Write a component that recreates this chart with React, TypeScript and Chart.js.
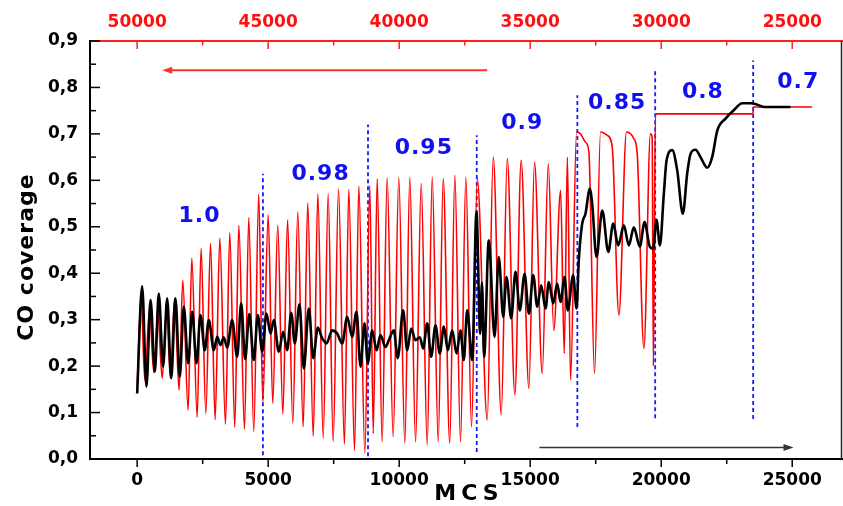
import React, { useEffect, useRef } from 'react';
import { Chart, registerables } from 'chart.js';

Chart.register(...registerables);

// ---- data ----
const redPoints: [number, number][] = [
  [0, 0.155], [150, 0.349], [290, 0.17], [470, 0.32], [635, 0.186], [790, 0.313], [955, 0.174], [1120, 0.325],
  [1270, 0.174], [1425, 0.346], [1600, 0.148], [1740, 0.385], [1945, 0.105], [2085, 0.432], [2290, 0.09], [2440, 0.453],
  [2620, 0.098], [2800, 0.464], [2975, 0.085], [3155, 0.475], [3370, 0.075], [3535, 0.487], [3725, 0.069], [3880, 0.503],
  [4095, 0.064], [4260, 0.52], [4450, 0.059], [4640, 0.57], [4795, 0.123], [5000, 0.525], [5175, 0.12], [5365, 0.503],
  [5560, 0.097], [5740, 0.515], [5940, 0.077], [6130, 0.532], [6335, 0.069], [6510, 0.551], [6720, 0.049], [6895, 0.571],
  [7100, 0.045], [7290, 0.571], [7480, 0.037], [7685, 0.582], [7910, 0.032], [8077, 0.58], [8295, 0.018], [8460, 0.587],
  [8690, 0.012], [8880, 0.589], [9010, 0.055], [9160, 0.604], [9350, 0.037], [9540, 0.606], [9770, 0.048], [9985, 0.606],
  [10215, 0.034], [10405, 0.606], [10625, 0.037], [10840, 0.593], [11070, 0.03], [11260, 0.607], [11490, 0.037], [11680, 0.604],
  [11930, 0.034], [12125, 0.611], [12340, 0.037], [12545, 0.607], [12760, 0.069], [12980, 0.604], [13360, 0.084], [13590, 0.65],
  [13895, 0.095], [14125, 0.647], [14415, 0.138], [14655, 0.643], [14950, 0.152], [15165, 0.639], [15460, 0.184], [15690, 0.636],
  [15900, 0.277], [16160, 0.578], [16300, 0.227], [16420, 0.65], [16540, 0.17], [16770, 0.704], [16920, 0.7], [17110, 0.682],
  [17240, 0.661], [17455, 0.184], [17685, 0.704], [17940, 0.697], [18130, 0.672], [18385, 0.31], [18675, 0.704], [18955, 0.69],
  [19085, 0.657], [19340, 0.238], [19590, 0.7], [19655, 0.693], [19700, 0.2], [19780, 0.743], [23505, 0.743], [23515, 0.758],
  [25760, 0.758],
];

const blackPoints: [number, number][] = [
  [0, 0.141], [190, 0.372], [355, 0.156], [510, 0.343], [675, 0.188], [825, 0.356], [990, 0.199], [1145, 0.346],
  [1300, 0.174], [1460, 0.346], [1625, 0.177], [1780, 0.328], [1945, 0.206], [2100, 0.317], [2265, 0.206], [2415, 0.31],
  [2580, 0.234], [2735, 0.299], [2925, 0.234], [3055, 0.263], [3180, 0.245], [3305, 0.262], [3435, 0.24], [3625, 0.299],
  [3815, 0.22], [3970, 0.335], [4120, 0.215], [4280, 0.312], [4450, 0.213], [4605, 0.31], [4770, 0.231], [4935, 0.313],
  [5090, 0.27], [5215, 0.299], [5405, 0.231], [5570, 0.274], [5725, 0.234], [5880, 0.315], [6015, 0.249], [6195, 0.333],
  [6360, 0.195], [6550, 0.324], [6720, 0.217], [6895, 0.283], [7060, 0.26], [7225, 0.249], [7445, 0.277], [7635, 0.27],
  [7825, 0.249], [8015, 0.306], [8205, 0.263], [8370, 0.317], [8525, 0.199], [8675, 0.292], [8800, 0.206], [8970, 0.277],
  [9135, 0.234], [9285, 0.267], [9475, 0.241], [9605, 0.256], [9795, 0.277], [9945, 0.217], [10150, 0.32], [10305, 0.234],
  [10460, 0.281], [10620, 0.256], [10790, 0.262], [10915, 0.238], [11070, 0.292], [11220, 0.22], [11385, 0.288], [11550, 0.227],
  [11705, 0.285], [11855, 0.234], [12025, 0.277], [12190, 0.227], [12340, 0.277], [12465, 0.213], [12595, 0.32], [12785, 0.213],
  [12950, 0.532], [13090, 0.27], [13160, 0.38], [13240, 0.22], [13420, 0.471], [13640, 0.263], [13800, 0.435], [13970, 0.306],
  [14095, 0.392], [14275, 0.303], [14440, 0.403], [14605, 0.32], [14785, 0.399], [14950, 0.313], [15115, 0.396], [15270, 0.328],
  [15420, 0.374], [15585, 0.324], [15710, 0.381], [15880, 0.335], [16030, 0.378], [16160, 0.338], [16310, 0.392], [16435, 0.32],
  [16640, 0.396], [16770, 0.324], [16855, 0.428], [16985, 0.507], [17110, 0.528], [17275, 0.582], [17365, 0.55], [17530, 0.435],
  [17750, 0.535], [17980, 0.446], [18170, 0.507], [18360, 0.46], [18575, 0.503], [18765, 0.46], [18955, 0.499], [19185, 0.457],
  [19365, 0.51], [19565, 0.457], [19695, 0.453], [19820, 0.515], [19950, 0.46], [20100, 0.571], [20205, 0.643], [20420, 0.665],
  [20610, 0.622], [20825, 0.528], [20990, 0.614], [21120, 0.657], [21310, 0.666], [21500, 0.65], [21755, 0.627], [21945, 0.65],
  [22140, 0.707], [22455, 0.733], [22770, 0.751], [23090, 0.766], [23410, 0.766], [23665, 0.763], [23915, 0.758], [24935, 0.758],
];

const bottomTicks = [0, 5000, 10000, 15000, 20000, 25000];
const topTicks = [50000, 45000, 40000, 35000, 30000, 25000];
const yTicks = [0, 0.1, 0.2, 0.3, 0.4, 0.5, 0.6, 0.7, 0.8, 0.9];

const boundaryX = [4800, 8810, 12960, 16800, 19770, 23510];
const boundaryTop = [0.614, 0.72, 0.697, 0.783, 0.84, 0.858];
const boundaryBottom = [0.008, 0.006, 0.015, 0.069, 0.088, 0.086];

const phaseLabels = ['1.0', '0.98', '0.95', '0.9', '0.85', '0.8', '0.7'];
const phaseLabelX = [2378, 7000, 10940, 14695, 18320, 21590, 25230];
const phaseLabelY = [0.523, 0.614, 0.668, 0.722, 0.765, 0.79, 0.811];

const redArrowX = [13360, 954];
const redArrowY = [0.837, 0.837];
const blackArrowX = [15350, 25050];
const blackArrowY = [0.025, 0.025];

const FONT = "'DejaVu Sans', 'Liberation Sans', Arial, sans-serif";

function drawArrow(ctx: CanvasRenderingContext2D, x0: number, y0: number, x1: number, y1: number, color: string, lw: number) {
  const dir = Math.sign(x1 - x0);
  const headLen = 10;
  const half = 3.5;
  ctx.strokeStyle = color;
  ctx.fillStyle = color;
  ctx.lineWidth = lw;
  ctx.beginPath();
  ctx.moveTo(x0, y0);
  ctx.lineTo(x1 - dir * headLen * 0.8, y1);
  ctx.stroke();
  ctx.beginPath();
  ctx.moveTo(x1, y1);
  ctx.lineTo(x1 - dir * headLen, y1 - half);
  ctx.lineTo(x1 - dir * headLen, y1 + half);
  ctx.closePath();
  ctx.fill();
}

const decorPlugin = {
  id: 'decor',
  afterDraw(chart: any) {
    const { ctx, chartArea: ca, scales } = chart;
    const xs = scales.x;
    const ys = scales.y;
    const x2 = scales.x2;
    ctx.save();

    // right frame line
    ctx.strokeStyle = '#222';
    ctx.lineWidth = 1.5;
    ctx.beginPath();
    ctx.moveTo(ca.right - 0.5, ca.top);
    ctx.lineTo(ca.right - 0.5, ca.bottom);
    ctx.stroke();

    // bottom ticks (outward)
    ctx.strokeStyle = '#000';
    ctx.lineWidth = 1.5;
    bottomTicks.forEach((v, i) => {
      const px = xs.getPixelForValue(v);
      ctx.beginPath(); ctx.moveTo(px, ca.bottom); ctx.lineTo(px, ca.bottom + 8); ctx.stroke();
      if (i < bottomTicks.length - 1) {
        const m = xs.getPixelForValue((v + bottomTicks[i + 1]) / 2);
        ctx.beginPath(); ctx.moveTo(m, ca.bottom); ctx.lineTo(m, ca.bottom + 5); ctx.stroke();
      }
    });
    // left ticks (inward)
    yTicks.forEach((v, i) => {
      const py = ys.getPixelForValue(v);
      ctx.beginPath(); ctx.moveTo(ca.left, py); ctx.lineTo(ca.left + 10, py); ctx.stroke();
      if (i < yTicks.length - 1) {
        const m = ys.getPixelForValue((v + yTicks[i + 1]) / 2);
        ctx.beginPath(); ctx.moveTo(ca.left, m); ctx.lineTo(ca.left + 6, m); ctx.stroke();
      }
    });
    // top ticks (inward, red)
    ctx.strokeStyle = '#ff2020';
    topTicks.forEach((v, i) => {
      const px = x2.getPixelForValue(v);
      ctx.beginPath(); ctx.moveTo(px, ca.top); ctx.lineTo(px, ca.top + 8); ctx.stroke();
      if (i < topTicks.length - 1) {
        const m = x2.getPixelForValue((v + topTicks[i + 1]) / 2);
        ctx.beginPath(); ctx.moveTo(m, ca.top); ctx.lineTo(m, ca.top + 4.5); ctx.stroke();
      }
    });

    // arrows
    drawArrow(ctx, xs.getPixelForValue(redArrowX[0]), ys.getPixelForValue(redArrowY[0]),
      xs.getPixelForValue(redArrowX[1]), ys.getPixelForValue(redArrowY[1]), '#ff3030', 1.8);
    drawArrow(ctx, xs.getPixelForValue(blackArrowX[0]), ys.getPixelForValue(blackArrowY[0]),
      xs.getPixelForValue(blackArrowX[1]), ys.getPixelForValue(blackArrowY[1]), '#333', 1.5);

    // phase labels
    ctx.fillStyle = '#1010f0';
    ctx.font = `bold 22px ${FONT}`;
    ctx.textAlign = 'center';
    ctx.textBaseline = 'middle';
    (ctx as any).letterSpacing = '1px';
    phaseLabels.forEach((t, i) => {
      ctx.fillText(t, xs.getPixelForValue(phaseLabelX[i]), ys.getPixelForValue(phaseLabelY[i]));
    });

    // axis titles
    ctx.fillStyle = '#000';
    (ctx as any).letterSpacing = '5px';
    ctx.font = `bold 22px ${FONT}`;
    ctx.fillText('MCS', (ca.left + ca.right) / 2 + 3, 494);
    (ctx as any).letterSpacing = '1px';
    ctx.translate(27, 257);
    ctx.rotate(-Math.PI / 2);
    ctx.fillText('CO coverage', 0, 0);
    ctx.restore();
  },
};

export default function App() {
  const canvasRef = useRef<HTMLCanvasElement | null>(null);

  useEffect(() => {
    if (!canvasRef.current) return;
    const tickFont = { family: FONT, size: 17, weight: 'bold' as const };
    const plain = (v: any) => String(Math.round(Number(v)));
    const boundaryDatasets = boundaryX.map((x, i) => ({
      label: `boundary${i}`,
      data: [{ x, y: boundaryBottom[i] }, { x, y: boundaryTop[i] }],
      borderColor: '#1a1aff',
      borderWidth: 1.8,
      borderDash: [4, 3],
      pointRadius: 0,
      order: 3,
      xAxisID: 'x',
      yAxisID: 'y',
    }));
    const chart = new Chart(canvasRef.current, {
      type: 'line',
      data: {
        datasets: [
          {
            label: 'black',
            data: blackPoints.map(([x, y]) => ({ x, y })),
            borderColor: '#000',
            borderWidth: 2.6,
            pointRadius: 0,
            cubicInterpolationMode: 'monotone',
            order: 0,
            xAxisID: 'x',
            yAxisID: 'y',
          },
          {
            label: 'red',
            data: redPoints.map(([x, y]) => ({ x, y })),
            borderColor: '#ff0000',
            borderWidth: 1.6,
            pointRadius: 0,
            cubicInterpolationMode: 'monotone',
            order: 1,
            xAxisID: 'x',
            yAxisID: 'y',
          },
          ...boundaryDatasets,
        ] as any,
      },
      options: {
        animation: false,
        responsive: false,
        devicePixelRatio: 1,
        events: [],
        layout: { padding: { left: 0, right: 1, top: 0, bottom: 0 } },
        plugins: { legend: { display: false }, tooltip: { enabled: false } },
        scales: {
          x: {
            type: 'linear',
            position: 'bottom',
            min: -1800,
            max: 26900,
            afterBuildTicks: (s: any) => { s.ticks = bottomTicks.map((v) => ({ value: v })); },
            afterFit: (s: any) => { s.height = 47; },
            grid: { display: false, drawTicks: false },
            border: { display: true, color: '#000', width: 2 },
            ticks: { color: '#000', font: tickFont, padding: 11, maxRotation: 0, autoSkip: false, callback: plain },
          },
          x2: {
            type: 'linear',
            position: 'top',
            reverse: true,
            min: 50000 - 26900,
            max: 50000 + 1800,
            afterBuildTicks: (s: any) => { s.ticks = topTicks.map((v) => ({ value: v })); },
            afterFit: (s: any) => { s.height = 41; },
            grid: { display: false, drawTicks: false },
            border: { display: true, color: '#ff2020', width: 2 },
            ticks: { color: '#ff1010', font: tickFont, padding: 8, maxRotation: 0, autoSkip: false, callback: plain },
          },
          y: {
            type: 'linear',
            position: 'left',
            min: 0,
            max: 0.9,
            afterBuildTicks: (s: any) => { s.ticks = yTicks.map((v) => ({ value: v })); },
            afterFit: (s: any) => { s.width = 90; },
            grid: { display: false, drawTicks: false },
            border: { display: true, color: '#000', width: 2 },
            ticks: {
              color: '#000',
              font: tickFont,
              padding: 12,
              autoSkip: false,
              callback: (v: any) => Number(v).toFixed(1).replace('.', ','),
            },
          },
        },
      } as any,
      plugins: [decorPlugin],
    });
    return () => chart.destroy();
  }, []);

  return (
    <div style={{ position: 'fixed', left: 0, top: 0, width: 843, height: 506, background: '#fff' }}>
      <canvas ref={canvasRef} width={843} height={506} style={{ width: 843, height: 506 }} />
    </div>
  );
}
